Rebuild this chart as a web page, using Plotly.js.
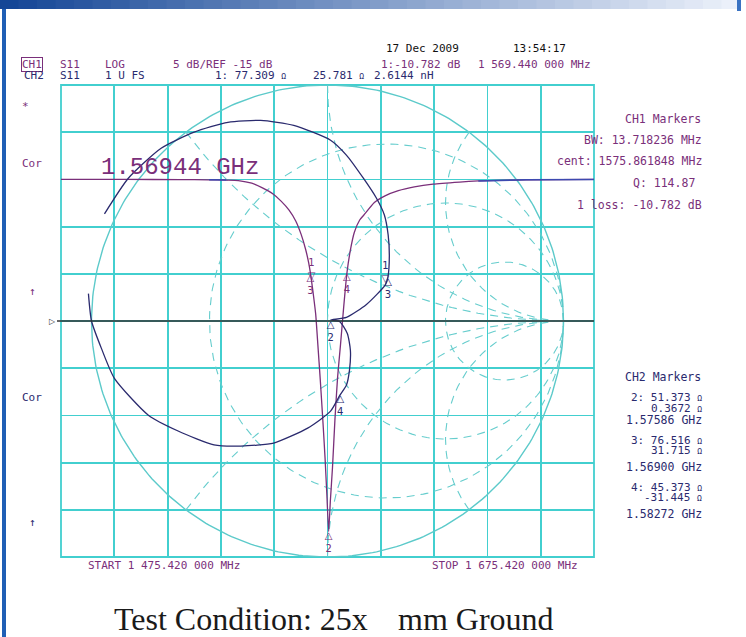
<!DOCTYPE html>
<html><head><meta charset="utf-8">
<script src="https://cdn.plot.ly/plotly-3.0.1.min.js"></script>
<style>html,body{margin:0;padding:0;background:#fff;}#chart{width:746px;height:637px;}
#chart .zerolinelayer, #chart .xlines-above, #chart .ylines-above, #chart .xlines-below, #chart .ylines-below{display:none;}
#chart .gridlayer path{stroke:#42cfcf !important;}
</style>
</head><body><div id="chart"></div>
<script>
// ---------- DATA ----------
// CH1 : S11 log magnitude (dB) versus frequency (MHz)
const ch1Freq = [1475.42,1500,1520,1531,1537.5,1542,1547,1551,1555,1558,1561,1563.5,1565.5,1567.2,1568.4,1569.0,1569.44,1570.2,1571.0,1571.8,1572.7,1573.6,1574.5,1575.2,1575.86,1576.5,1577.3,1578.2,1579.2,1580.3,1581.5,1582.72,1584.0,1585.5,1587.5,1589,1593,1597,1602,1608,1615,1625,1632,1640,1650,1675.42];
const ch1Db   = [0.0,0.0,-0.02,-0.04,-0.07,-0.12,-0.4,-0.9,-1.55,-2.3,-3.25,-4.4,-5.8,-7.4,-8.9,-9.9,-10.78,-12.4,-14.3,-17.5,-21.2,-25.2,-29.5,-33.5,-37.3,-34.0,-30.5,-25.5,-21.0,-17.5,-13.5,-9.9,-7.5,-5.6,-4.3,-3.8,-2.45,-1.75,-1.2,-0.8,-0.5,-0.28,-0.16,-0.1,-0.04,0.0];
// CH2 : S11 on Smith chart (reflection coefficient, real / imaginary)
const ch2Re = [-0.945,-0.844,-0.705,-0.565,-0.422,-0.283,-0.143,0.013,0.080,0.152,0.207,0.241,0.257,0.262,0.256,0.245,0.165,0.080,0.014,0.051,0.084,0.097,0.093,0.080,0.054,0.013,-0.084,-0.228,-0.367,-0.481,-0.633,-0.759,-0.903,-0.958,-1.000,-1.013];
const ch2Im = [0.454,0.605,0.732,0.800,0.842,0.850,0.829,0.766,0.703,0.605,0.521,0.449,0.365,0.276,0.186,0.153,0.070,0.015,0.004,-0.002,-0.053,-0.124,-0.209,-0.272,-0.312,-0.382,-0.454,-0.517,-0.530,-0.525,-0.466,-0.399,-0.243,-0.116,0.000,0.116];
// Markers
const ch1MarkerId   = ['1','2','3','4'];
const ch1MarkerFreq = [1569.44,1575.86,1569.00,1582.72];
const ch1MarkerDb   = [-10.782,-37.3,-10.0,-9.9];
const ch2MarkerId   = ['1','2','3','4'];
const ch2MarkerR    = [77.309,51.373,76.516,45.373];   // ohm
const ch2MarkerX    = [25.781,0.3672,31.715,-31.445]; // ohm
const Z0 = 50;
// Smith chart graticule values
const smithR = [1/3,1,3];
const smithX = [0.5,1,2,-0.5,-1,-2];

// ---------- STYLE / GEOMETRY ----------
const L=61, R=594, T=85, B=557;
const xRange=[1475.42,1675.42], yRange=[-40,10];
const PX = x => (x-L)/(R-L);
const PY = y => (B-y)/(B-T);
const PURPLE='#7a2f7a', NAVY='#2a2a6e', CYAN='#42cfcf', CYAN2='#66cdcd';
const MONO='DejaVu Sans Mono';
const NONE='rgba(0,0,0,0)';
// Smith chart overlay: unit circle centred on the graticule (centre frequency, reference level), round in pixels
const SM_R_PX=236;
const SM_CX=(xRange[0]+xRange[1])/2, SM_CY=-15;
const SM_KX=SM_R_PX*(xRange[1]-xRange[0])/(R-L), SM_KY=SM_R_PX*(yRange[1]-yRange[0])/(B-T);
const sx = g => SM_CX + SM_KX*g;
const sy = g => SM_CY + SM_KY*g;

// ---------- TRACES ----------
const traces=[];
const gridLine={color:CYAN2,width:1.1,dash:'8px,6px'};
function smithLine(gr,gi,line){traces.push({type:'scatter',mode:'lines',x:gr.map(sx),y:gi.map(sy),line:line,hoverinfo:'skip',showlegend:false});}
smithR.forEach(r=>{
  const c=r/(1+r), rad=1/(1+r), xs=[], ys=[];
  for(let i=0;i<=240;i++){const a=2*Math.PI*i/240; xs.push(c+rad*Math.cos(a)); ys.push(rad*Math.sin(a));}
  smithLine(xs,ys,gridLine);
});
smithX.forEach(xv=>{
  const xs=[], ys=[];
  const rs=[0]; for(let k=-60;k<=80;k++) rs.push(Math.pow(10,k/20));
  rs.forEach(r=>{const d=(r+1)*(r+1)+xv*xv; xs.push((r*r-1+xv*xv)/d); ys.push(2*xv/d);});
  smithLine(xs,ys,gridLine);
});
(function(){const xs=[],ys=[];for(let i=0;i<=360;i++){const a=2*Math.PI*i/360;xs.push(Math.cos(a));ys.push(Math.sin(a));}
 smithLine(xs,ys,{color:'#5ccaca',width:1.4});})();

// CH1 log mag
traces.push({type:'scatter',mode:'lines',x:ch1Freq,y:ch1Db,line:{color:PURPLE,width:1.3,shape:'spline',smoothing:0.5},hoverinfo:'skip',showlegend:false});
function seg(lo,hi){const xs=[],ys=[];ch1Freq.forEach((f,i)=>{if(f>=lo&&f<=hi){xs.push(f);ys.push(ch1Db[i]);}});return {xs,ys};}
[[1531,1537.5],[1632,1675.42]].forEach(([lo,hi])=>{const s=seg(lo,hi);
 traces.push({type:'scatter',mode:'lines',x:s.xs,y:s.ys,line:{color:'#3d49b0',width:1.5},hoverinfo:'skip',showlegend:false});});

// CH2 Smith
smithLine(ch2Re,ch2Im,{color:NAVY,width:1.3,shape:'spline',smoothing:0.6});

// markers
const mkFont={family:'DejaVu Sans',size:10};
const ch1Txt=ch1MarkerId.map(id=> id==='1' ? '1<br>▽' : '△<br>'+id);
const ch1Pos=ch1MarkerId.map(id=> id==='1' ? 'top center' : 'bottom center');
traces.push({type:'scatter',mode:'text',x:ch1MarkerFreq,y:ch1MarkerDb,text:ch1Txt,textposition:ch1Pos,textfont:Object.assign({color:PURPLE},mkFont),hoverinfo:'skip',showlegend:false,cliponaxis:false});
const ch2G=ch2MarkerR.map((r,i)=>{const a=r/Z0,b=ch2MarkerX[i]/Z0;const d=(a+1)*(a+1)+b*b;return [(a*a-1+b*b)/d,2*b/d];});
const ch2Txt=ch2MarkerId.map(id=> id==='1' ? '1<br>▽' : '△<br>'+id);
const ch2Pos=ch2MarkerId.map(id=> id==='1' ? 'top center' : 'bottom center');
traces.push({type:'scatter',mode:'text',x:ch2G.map(g=>sx(g[0])),y:ch2G.map(g=>sy(g[1])),text:ch2Txt,textposition:ch2Pos,textfont:Object.assign({color:NAVY},mkFont),hoverinfo:'skip',showlegend:false,cliponaxis:false});

// ---------- ANNOTATIONS ----------
const ann=[];
function txt(s,x,y,color,size,xa,family){ann.push({xref:'paper',yref:'paper',x:PX(x),y:PY(y),text:s,showarrow:false,xanchor:xa||'left',yanchor:'middle',font:{family:family||MONO,size:size||11,color:color}});}
const OM='<span style="font-size:8px">Ω</span>';
txt('17 Dec 2009',384,48,'#111');
txt('13:54:17',568,48,'#111',11,'right');
ann.push({xref:'paper',yref:'paper',x:PX(21),y:PY(64),text:'CH1',showarrow:false,xanchor:'left',yanchor:'middle',font:{family:MONO,size:11,color:PURPLE},bordercolor:PURPLE,borderwidth:1,borderpad:0});
txt('S11',58,64,PURPLE); txt('LOG',103,64,PURPLE); txt('5 dB/REF -15 dB',171,64,PURPLE);
txt('1:-10.782 dB',379,64,PURPLE); txt('1 569.440 000 MHz',476,64,PURPLE);
txt('CH2',22,75,NAVY); txt('S11',58,75,NAVY); txt('1 U FS',103,75,NAVY);
txt('1: 77.309 '+OM,213,75,NAVY); txt('25.781 '+OM,311,75,NAVY); txt('2.6144 nH',372,75,NAVY);
// left side labels
txt('*',20,106,PURPLE); txt('Cor',20,163,PURPLE); txt('↑',27,291,PURPLE);
txt('Cor',20,397,NAVY); txt('↑',27,522,NAVY);
// CH1 markers panel
txt('CH1 Markers',703,119,PURPLE,11.5,'right');
txt('BW: 13.718236 MHz',704,140,PURPLE,11.5,'right');
txt('cent: 1575.861848 MHz',704,161,PURPLE,11.5,'right');
txt('Q: 114.87',697,183,PURPLE,11.5,'right');
txt('1 loss: -10.782 dB',704,205,PURPLE,11.5,'right');
// CH2 markers panel
txt('CH2 Markers',703,377,NAVY,11.5,'right');
txt('2: 51.373 '+OM,704,397,NAVY,11,'right');
txt('0.3672 '+OM,704,408,NAVY,11,'right');
txt('1.57586 GHz',704,420,NAVY,11.5,'right');
txt('3: 76.516 '+OM,704,440,NAVY,11,'right');
txt('31.715 '+OM,704,451,NAVY,11,'right');
txt('1.56900 GHz',704,467,NAVY,11.5,'right');
txt('4: 45.373 '+OM,704,487,NAVY,11,'right');
txt('-31.445 '+OM,704,497,NAVY,11,'right');
txt('1.58272 GHz',704,514,NAVY,11.5,'right');
// start / stop
txt('START 1 475.420 000 MHz',86,565,PURPLE,11);
txt('STOP 1 675.420 000 MHz',430,565,PURPLE,11);
// big frequency label
txt('1.56944 GHz',99,167,PURPLE,24,'left','Liberation Mono');
// reference position marker
ann.push({xref:'paper',yref:'y',x:PX(58),y:-15,text:'▷',showarrow:false,xanchor:'right',yanchor:'middle',font:{family:'DejaVu Sans',size:8,color:'#333'}});
// caption
txt('Test Condition: 25x',112,619,'#1a1a1a',32,'left','Liberation Serif');
txt('mm Ground',396,619,'#1a1a1a',32,'left','Liberation Serif');

// ---------- SHAPES ----------
const shapes=[];
shapes.push({type:'rect',xref:'paper',yref:'paper',x0:0,x1:1,y0:0,y1:1,line:{color:CYAN,width:1.8},fillcolor:NONE,layer:'below'});
shapes.push({type:'line',xref:'paper',yref:'y',x0:PX(57),x1:1,y0:-15,y1:-15,line:{color:'#333',width:1.5},layer:'above'});
shapes.push({type:'rect',xref:'paper',yref:'paper',x0:PX(2),x1:PX(6),y0:PY(637),y1:PY(0),fillcolor:'#1f5fb5',line:{width:0}});
const N=40;
for(let i=0;i<N;i++){
  const x0=i*740/N, x1=(i+1)*740/N+0.5, t=i/(N-1);
  const c=`rgb(${Math.round(20+t*215)},${Math.round(70+t*170)},${Math.round(150+t*100)})`;
  shapes.push({type:'rect',xref:'paper',yref:'paper',x0:PX(x0),x1:PX(x1),y0:PY(9),y1:PY(0),fillcolor:c,line:{width:0}});
}
shapes.push({type:'rect',xref:'paper',yref:'paper',x0:PX(737),x1:PX(741),y0:PY(11),y1:PY(0),fillcolor:'#3a72c2',line:{width:0}});

// ---------- LAYOUT ----------
const ax={showticklabels:false,ticks:'',zeroline:false,zerolinecolor:NONE,showline:false,showspikes:false,gridcolor:CYAN,gridwidth:1.8,fixedrange:true};
const layout={
  width:746,height:637,margin:{l:L,r:746-R,t:T,b:637-B,pad:0},
  paper_bgcolor:'#fff',plot_bgcolor:'#fff',showlegend:false,hovermode:false,
  xaxis:Object.assign({range:xRange,tick0:xRange[0],dtick:20},ax),
  yaxis:Object.assign({range:yRange,tick0:yRange[0],dtick:5},ax),
  annotations:ann,shapes:shapes
};
Plotly.newPlot('chart',traces,layout,{displayModeBar:false,staticPlot:true});
</script></body></html>
